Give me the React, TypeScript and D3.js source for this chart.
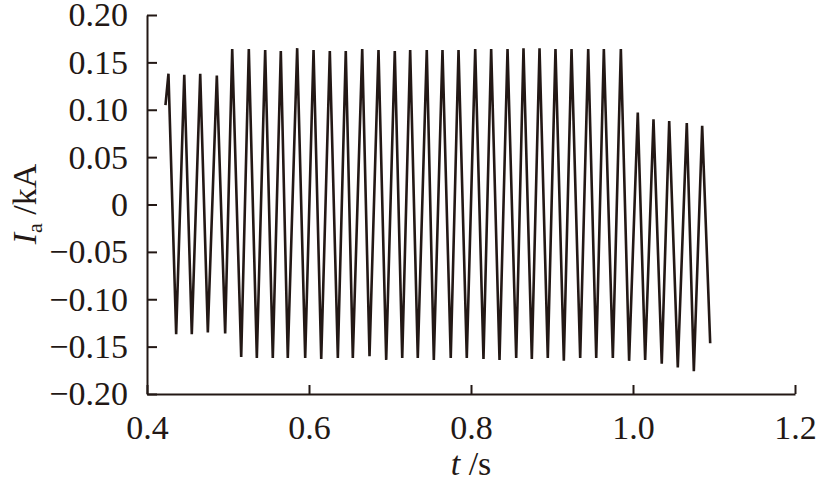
import * as d3 from 'd3';
import React, { useEffect, useRef } from 'react';

// vertices of the current trace (t in s, Ia in kA)
const tSec = [
  0.4228, 0.4265, 0.4360, 0.4460, 0.4553, 0.4657, 0.4751, 0.4862, 0.4965,
  0.5052, 0.5163, 0.5257, 0.5356, 0.5459, 0.5553, 0.5652, 0.5738, 0.5854,
  0.5953, 0.6056, 0.6151, 0.6257, 0.6356, 0.6454, 0.6541, 0.6657, 0.6747,
  0.6858, 0.6953, 0.7059, 0.7151, 0.7249, 0.7343, 0.7454, 0.7541, 0.7648,
  0.7750, 0.7846, 0.7948, 0.8052, 0.8154, 0.8249, 0.8352, 0.8451, 0.8558,
  0.8648, 0.8751, 0.8846, 0.8948, 0.9043, 0.9146, 0.9241, 0.9348, 0.9447,
  0.9546, 0.9640, 0.9751, 0.9850, 0.9952, 1.0059, 1.0150, 1.0253, 1.0355,
  1.0447, 1.0553, 1.0664, 1.0751, 1.0854, 1.0953,
];
const iaKA = [
  0.105, 0.138, -0.137, 0.137, -0.137, 0.138, -0.135, 0.136, -0.136,
  0.164, -0.161, 0.164, -0.162, 0.163, -0.162, 0.162, -0.162, 0.165,
  -0.162, 0.163, -0.163, 0.162, -0.162, 0.162, -0.162, 0.164, -0.160,
  0.163, -0.164, 0.162, -0.162, 0.163, -0.162, 0.163, -0.164, 0.163,
  -0.162, 0.163, -0.162, 0.164, -0.163, 0.164, -0.164, 0.164, -0.162,
  0.165, -0.163, 0.165, -0.162, 0.164, -0.165, 0.164, -0.162, 0.164,
  -0.162, 0.164, -0.162, 0.164, -0.165, 0.097, -0.164, 0.090, -0.168,
  0.088, -0.172, 0.086, -0.176, 0.083, -0.1465,
];
const xTicks = [0.4, 0.6, 0.8, 1.0, 1.2];
const yTicks = [0.2, 0.15, 0.1, 0.05, 0, -0.05, -0.1, -0.15, -0.2];

const W = 816;
const H = 483;
const ink = '#231815';
const font = '"Liberation Serif", "Times New Roman", serif';

export default function App() {
  const xRef = useRef<SVGGElement>(null);
  const yRef = useRef<SVGGElement>(null);

  const x = d3.scaleLinear().domain([0.4, 1.2]).range([147, 795]);
  const y = d3.scaleLinear().domain([-0.2, 0.2]).range([394, 15]);

  const line = d3.line<number>()
    .x((d, i) => x(tSec[i]))
    .y(d => y(d));

  useEffect(() => {
    const xAxis = d3.axisBottom(x)
      .tickValues(xTicks)
      .tickFormat(d3.format('.1f') as any)
      .tickSize(-9)
      .tickSizeOuter(0)
      .tickPadding(21);
    const yAxis = d3.axisLeft(y)
      .tickValues(yTicks)
      .tickFormat((d: any) => (d === 0 ? '0' : d3.format('.2f')(d)))
      .tickSize(-10)
      .tickSizeOuter(0)
      .tickPadding(19);

    for (const [ref, ax] of [[xRef, xAxis], [yRef, yAxis]] as any) {
      const g = d3.select(ref.current);
      g.call(ax);
      g.selectAll('path, line').attr('stroke', ink).attr('stroke-width', 2);
      g.selectAll('text')
        .attr('fill', ink)
        .style('font-family', font)
        .style('font-size', '34px');
    }
  }, []);

  return (
    <svg width={W} height={H} style={{ position: 'absolute', left: 0, top: 0, background: '#fff' }}>
      <path d={line(iaKA) || ''} fill="none" stroke={ink} strokeWidth={2.6} />
      <g ref={xRef} transform="translate(0,394)" />
      <g ref={yRef} transform="translate(147,0)" />

      <text x={471} y={475} textAnchor="middle" fill={ink}
        style={{ fontFamily: font, fontSize: 34 }}>
        <tspan fontStyle="italic">t</tspan> /s
      </text>
      <text transform="translate(36,204) rotate(-90)" textAnchor="middle" fill={ink}
        style={{ fontFamily: font, fontSize: 34 }}>
        <tspan fontStyle="italic">I</tspan>
        <tspan dy={6} fontSize={22}>a</tspan>
        <tspan dy={-6}> /kA</tspan>
      </text>
    </svg>
  );
}
